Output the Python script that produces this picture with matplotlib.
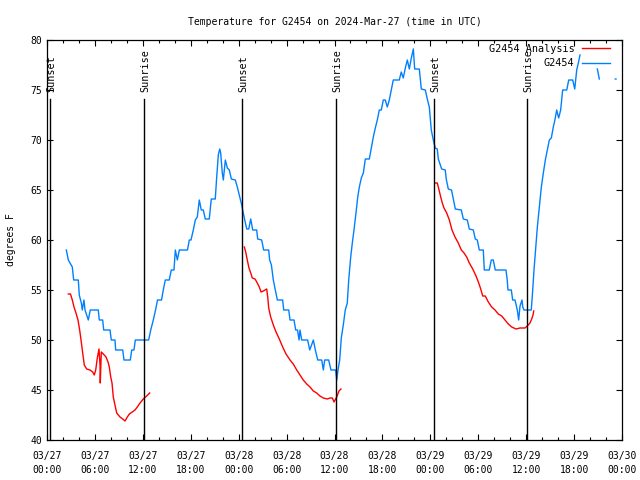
import numpy as np
import matplotlib
matplotlib.use("Agg")
import matplotlib.pyplot as plt

plt.rcParams['font.family'] = ['DejaVu Sans Mono']
plt.rcParams['font.size'] = 6.5

# hours since 03/27 00:00 UTC
obs_h = [2.42, 2.67, 3.17, 3.34, 3.92, 4.04, 4.30, 4.42, 4.63, 4.76, 5.17, 5.42, 6.42, 6.55,
         6.97, 7.10, 7.89, 8.05, 8.51, 8.60, 9.48, 9.64, 10.43, 10.61, 10.89, 11.06, 12.73, 12.99,
         13.31, 13.59, 13.84, 14.34, 14.56, 14.81, 15.31, 15.56, 15.90, 16.07, 16.32, 16.57, 17.59,
         17.82, 18.03, 18.32, 18.57, 18.82, 19.07, 19.32, 19.57, 19.82, 20.32, 20.57, 21.07, 21.25,
         21.45, 21.63, 21.75, 21.95, 22.08, 22.33, 22.58, 22.83, 23.08, 23.58, 23.83, 24.08, 24.38,
         24.50, 24.76, 25.01, 25.26, 25.51, 25.76, 26.26, 26.38, 26.88, 27.13, 27.76, 27.88, 28.10,
         28.34, 28.59, 28.84, 29.51, 29.64, 30.27, 30.43, 30.93, 31.14, 31.37, 31.56, 31.68, 31.89,
         32.64, 32.90, 33.35, 33.60, 33.90, 34.40, 34.60, 34.77, 35.27, 35.56, 36.15, 36.28, 36.44,
         36.65, 36.85, 37.10, 37.35, 37.60, 37.78, 38.03, 38.23, 38.44, 38.69, 38.91, 39.11, 39.36,
         39.61, 39.86, 40.36, 40.61, 40.86, 41.11, 41.36, 41.61, 41.86, 42.11, 42.36, 42.61, 42.86,
         43.11, 43.36, 44.11, 44.36, 44.61, 44.87, 45.12, 45.37, 45.62, 45.87, 46.04, 46.62, 46.87,
         47.37, 47.62, 47.87, 48.12, 48.37, 48.62, 48.87, 49.00, 49.42, 49.87, 49.99, 50.25, 50.65,
         50.88, 51.13, 51.88, 52.13, 52.63, 52.88, 53.38, 53.63, 53.88, 54.13, 54.63, 54.76, 55.38,
         55.63, 55.88, 56.13, 57.47, 57.63, 57.72, 58.14, 58.31, 58.60, 58.89, 59.06, 59.23, 59.48,
         59.57, 59.73, 60.64, 60.82, 60.98, 61.17, 61.40, 61.65, 61.90, 62.15, 62.40, 62.65, 62.90,
         63.15, 63.40, 63.65, 63.82, 64.07, 64.32, 64.57, 65.08, 65.33, 65.83, 66.08, 66.20, 66.33,
         66.53, 66.74, 67.5, 68.91, 69.16, 70.0, 71.16, 71.25]
obs_t = [59.0, 58.0, 57.3, 56, 56, 54.5, 53.7, 53, 54, 53, 52, 53, 53, 52,
         52, 51, 51, 50, 50, 49, 49, 48, 48, 49, 49, 50, 50, 51,
         52, 53, 54, 54, 55, 56, 56, 57, 57, 59, 58, 59, 59,
         60, 60, 61, 62, 62.3, 64, 63, 63, 62.1, 62.1, 64.1, 64.1, 66.3,
         68.5, 69.1, 68.7, 66.7, 66, 68, 67.2, 67, 66.1, 66, 65.3, 64.5, 63.5,
         63, 62, 61.1, 61.1, 62.1, 61, 61, 60.1, 60, 59, 59, 58, 57.5,
         56, 55, 54, 54, 53, 53, 52, 52, 51, 51, 50, 51, 50,
         50, 49, 50, 49, 48, 48, 47, 48, 48, 47, 47, 46, 47,
         48, 50.2, 51.5, 53, 53.7, 56, 58.3, 59.7, 61, 62.7, 64.3, 65.3, 66.2,
         66.7, 68.1, 68.1, 69.2, 70.3, 71.2, 72, 73, 73, 74, 74, 73.3, 74,
         75, 76, 76, 76.8, 76.2, 77.2, 78, 77.1, 78.2, 79.1, 77.1, 77.1, 75.1,
         75, 74.1, 73.3, 71, 70, 69.2, 69.1, 68.1, 67.1, 67, 66.1, 65.1, 65,
         64.1, 63.1, 63, 62.1, 62, 61.1, 61, 60.1, 60, 59, 59, 57, 57,
         58, 58, 57, 57, 56, 55, 55, 54, 54, 53, 52, 53.4, 54,
         53.3, 53, 53, 55, 57, 59, 61.3, 63.3, 65.3, 66.7, 68, 69, 70,
         70.2, 71.3, 72.2, 73, 72.2, 73, 75, 75, 76, 76, 75.1, 76, 77,
         77.7, 78.5, np.nan, 77.1, 76.1, np.nan, 76.1, 76.1]

ana_h = [2.67, 2.94, 3.17, 3.38, 3.63, 3.88, 4.09, 4.26, 4.47, 4.67, 4.97, 5.38, 5.72, 5.92,
         6.10, 6.30, 6.51, 6.64, 6.67, 6.80, 7.05, 7.39, 7.64, 7.80, 7.98, 8.14, 8.30, 8.51,
         8.73, 9.14, 9.48, 9.77, 10.06, 10.31, 10.68, 11.02, 11.31, 11.65, 12.06, 12.48, 12.86,
         18.0,
         24.71, 24.88, 25.08, 25.29, 25.51, 25.71, 26.05, 26.33, 26.58, 26.80, 27.09, 27.51, 27.64,
         27.76, 28.01, 28.34, 28.68, 29.09, 29.51, 29.93, 30.43, 30.84, 31.27, 31.68, 32.09, 32.52,
         32.93, 33.35, 33.77, 34.18, 34.60, 35.10, 35.44, 35.73, 35.94, 36.28, 36.56, 36.81,
         42.0,
         48.59, 48.87, 49.09, 49.30, 49.50, 49.71, 50.05, 50.38, 50.71, 51.09, 51.50, 51.88, 52.22,
         52.55, 52.88, 53.31, 53.72, 54.06, 54.31, 54.56, 54.88, 55.26, 55.68, 56.10, 56.51, 56.94,
         57.35, 57.76, 58.19, 58.73, 59.23, 59.85, 60.14, 60.48, 60.69, 60.86, 60.94]
ana_t = [54.6, 54.6, 54, 53.3, 52.7, 52, 51, 50, 48.7, 47.5, 47.1, 47, 46.8, 46.5,
         47, 48.2, 49.1, 47.5, 45.7, 48.8, 48.6, 48.3, 47.8, 47.3, 46.3, 45.7, 44.3, 43.5,
         42.7, 42.3, 42.1, 41.9, 42.3, 42.6, 42.8, 43, 43.3, 43.7, 44.1, 44.4, 44.7,
         np.nan,
         59.3, 58.8, 58, 57.2, 56.7, 56.2, 56.1, 55.7, 55.3, 54.8, 54.9, 55.1, 54.3,
         53.2, 52.3, 51.5, 50.8, 50.1, 49.3, 48.6, 48, 47.6, 47, 46.5, 46, 45.6,
         45.3, 44.9, 44.7, 44.4, 44.2, 44.1, 44.2, 44.2, 43.8, 44.3, 44.9, 45.1,
         np.nan,
         65.7, 65.7, 65, 64.3, 63.7, 63.2, 62.7, 62, 61, 60.3, 59.7, 59, 58.7,
         58.3, 57.7, 57.1, 56.4, 55.7, 55.1, 54.4, 54.4, 53.8, 53.3, 53, 52.6, 52.4,
         52, 51.6, 51.3, 51.1, 51.2, 51.2, 51.4, 51.7, 52.1, 52.5, 52.9]

sun_h = [0.42, 12.18, 24.46, 36.23, 48.5, 60.14]
sun_lbl = ["Sunset", "Sunrise", "Sunset", "Sunrise", "Sunset", "Sunrise"]

tick_h = list(range(0, 73, 6))
tick_lbl = ["03/27\n00:00", "03/27\n06:00", "03/27\n12:00", "03/27\n18:00",
            "03/28\n00:00", "03/28\n06:00", "03/28\n12:00", "03/28\n18:00",
            "03/29\n00:00", "03/29\n06:00", "03/29\n12:00", "03/29\n18:00",
            "03/30\n00:00"]

fig = plt.figure(figsize=(6.4, 4.8), dpi=100)
ax = fig.add_axes([47/640, 40/480, 575/640, 400/480])

ax.plot(ana_h, ana_t, color='#ff0000', lw=1.0, label='G2454 Analysis')
ax.plot(obs_h, obs_t, color='#0080ff', lw=1.0, label='G2454')

for h, s in zip(sun_h, sun_lbl):
    ax.plot([h, h], [40, 74.1], color='black', lw=1.0)
    ax.text(h + 0.15, 74.8, s, rotation=90, ha='center', va='bottom', fontsize=7.3)

ax.set_xlim(0, 72)
ax.set_ylim(40, 80)
ax.set_xticks(tick_h)
ax.set_xticklabels(tick_lbl, linespacing=1.5)
ax.set_xticks(range(0, 73, 2), minor=True)
ax.set_yticks(range(40, 81, 5))
ax.tick_params(which='both', direction='in', top=True, right=True, labelsize=7)
ax.tick_params(which='major', length=4.5, width=0.8)
ax.tick_params(which='minor', length=2.2, width=0.8)
ax.tick_params(axis='x', pad=8)
for sp in ax.spines.values():
    sp.set_linewidth(0.9)

ax.set_title("Temperature for G2454 on 2024-Mar-27 (time in UTC)", fontsize=7, pad=11)
ax.set_ylabel("degrees F", fontsize=7, labelpad=10)

ax.legend(loc='upper right', bbox_to_anchor=(0.979, 0.99), markerfirst=False, frameon=False,
          handlelength=2.8, handletextpad=0.7, labelspacing=0.4, fontsize=7.3,
          borderaxespad=0, borderpad=0)

fig.savefig("out.png", dpi=100)
